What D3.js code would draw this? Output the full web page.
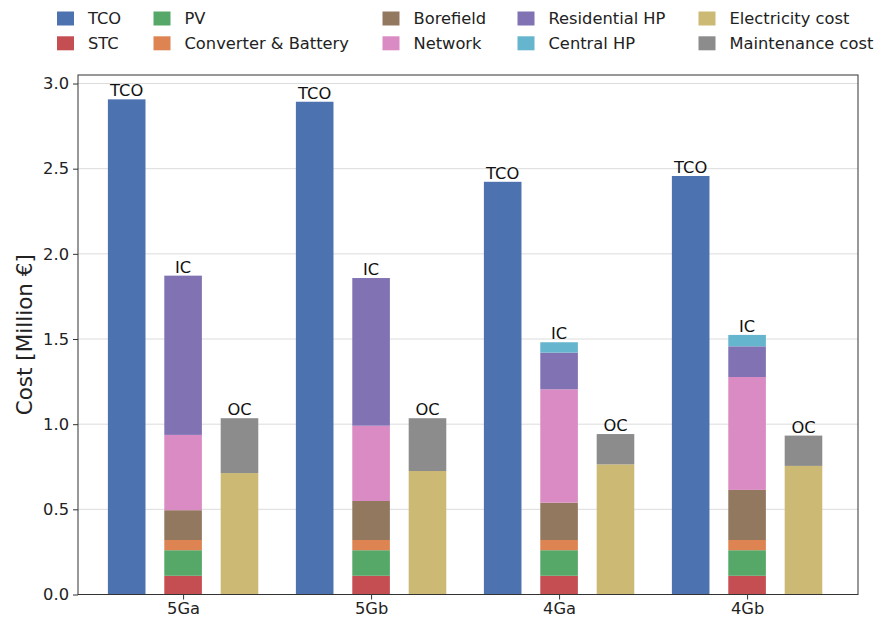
<!DOCTYPE html>
<html>
<head>
<meta charset="utf-8">
<script src="https://cdn.jsdelivr.net/npm/d3@7"></script>
<style>
  body { margin: 0; background: #fff; }
  svg { display: block; font-family: "DejaVu Sans", sans-serif; }
</style>
</head>
<body>
<svg id="chart" width="875" height="623"></svg>
<script>
// Scenarios on the x axis
const scenarios = ["5Ga", "5Gb", "4Ga", "4Gb"];

// Investment cost components (Million €)
const stc          = [0.110, 0.110, 0.110, 0.110];
const pv           = [0.150, 0.150, 0.150, 0.150];
const converter    = [0.060, 0.060, 0.060, 0.060];
const borefield    = [0.175, 0.229, 0.219, 0.294];
const network      = [0.442, 0.442, 0.666, 0.663];
const residentialHP= [0.935, 0.867, 0.215, 0.180];
const centralHP    = [0.000, 0.000, 0.061, 0.067];

// Operating cost components (Million €)
const electricity  = [0.713, 0.725, 0.764, 0.755];
const maintenance  = [0.322, 0.310, 0.178, 0.178];

// Total cost of ownership (Million €)
const tco          = [2.907, 2.893, 2.423, 2.457];

const yTicks = [0, 0.5, 1.0, 1.5, 2.0, 2.5, 3.0];

const legendItems = [
  ["TCO", "#4C72B0"], ["STC", "#C44E52"], ["PV", "#55A868"],
  ["Converter & Battery", "#DD8452"], ["Borefield", "#937860"],
  ["Network", "#DA8BC3"], ["Residential HP", "#8172B3"],
  ["Central HP", "#64B5CD"], ["Electricity cost", "#CCB974"],
  ["Maintenance cost", "#8C8C8C"]
];
const color = Object.fromEntries(legendItems);

const icStack = [
  ["STC", stc], ["PV", pv], ["Converter & Battery", converter],
  ["Borefield", borefield], ["Network", network],
  ["Residential HP", residentialHP], ["Central HP", centralHP]
];
const ocStack = [["Electricity cost", electricity], ["Maintenance cost", maintenance]];

const FS = 16.3;
const svg = d3.select("#chart");
const L = 78, R = 858, T = 75, B = 594.5;

const x = d3.scaleLinear().domain([-0.559, 3.59]).range([L, R]);
const y = d3.scaleLinear().domain([0, 3.05]).range([B, T]);
const barW = x(0.2) - x(0);
const offset = 0.3;

// grid
svg.append("g").selectAll("line").data(yTicks.filter(d => d > 0)).join("line")
  .attr("x1", L).attr("x2", R)
  .attr("y1", d => y(d)).attr("y2", d => y(d))
  .attr("stroke", "#dcdcdc").attr("stroke-width", 1);

const bars = svg.append("g");

// TCO bars
scenarios.forEach((s, i) => {
  const cx = x(i - offset);
  bars.append("rect")
    .attr("x", cx - barW / 2).attr("width", barW)
    .attr("y", y(tco[i])).attr("height", y(0) - y(tco[i]))
    .attr("fill", color["TCO"]);
  bars.append("text").attr("x", cx).attr("y", y(tco[i]) - 3)
    .attr("text-anchor", "middle").attr("font-size", FS).attr("fill", "#111").text("TCO");
});

function drawStack(stack, pos, label) {
  scenarios.forEach((s, i) => {
    const cx = x(i + pos);
    let base = 0;
    stack.forEach(([name, vals]) => {
      const v = vals[i];
      if (v > 0) {
        bars.append("rect")
          .attr("x", cx - barW / 2).attr("width", barW)
          .attr("y", y(base + v)).attr("height", y(base) - y(base + v))
          .attr("fill", color[name]);
      }
      base += v;
    });
    bars.append("text").attr("x", cx).attr("y", y(base) - 3)
      .attr("text-anchor", "middle").attr("font-size", FS).attr("fill", "#111").text(label);
  });
}
drawStack(icStack, 0, "IC");
drawStack(ocStack, offset, "OC");

// axes
const yAxis = d3.axisLeft(y).tickValues(yTicks).tickFormat(d3.format(".1f"))
  .tickSize(5).tickPadding(4);
const gy = svg.append("g").attr("transform", `translate(${L},0)`).call(yAxis);
gy.select(".domain").remove();
gy.selectAll("text").attr("font-size", FS).attr("fill", "#222").attr("font-family", "DejaVu Sans");
gy.selectAll("line").attr("stroke", "#333");

const xAxis = d3.axisBottom(x).tickValues(d3.range(scenarios.length))
  .tickFormat(i => scenarios[i]).tickSize(5).tickPadding(3);
const gx = svg.append("g").attr("transform", `translate(0,${B})`).call(xAxis);
gx.select(".domain").remove();
gx.selectAll("text").attr("font-size", FS).attr("fill", "#222").attr("font-family", "DejaVu Sans");
gx.selectAll("line").attr("stroke", "#333");

// frame
svg.append("rect").attr("x", L).attr("y", T).attr("width", R - L).attr("height", B - T)
  .attr("fill", "none").attr("stroke", "#333").attr("stroke-width", 1);

// y label
svg.append("text")
  .attr("transform", `translate(24,${(T + B) / 2}) rotate(-90)`)
  .attr("text-anchor", "middle").attr("dy", "0.36em").attr("font-size", 21.5).attr("fill", "#222")
  .text("Cost [Million €]");

// legend: 5 columns, 2 rows, filled column-wise
const colX = [57, 153.5, 382.5, 517.5, 698.5];
const rowY = [18.5, 43.3];
const lg = svg.append("g");
legendItems.forEach(([name, c], k) => {
  const col = Math.floor(k / 2), row = k % 2;
  lg.append("rect").attr("x", colX[col]).attr("y", rowY[row] - 7)
    .attr("width", 17).attr("height", 14).attr("fill", c);
  lg.append("text").attr("x", colX[col] + 31).attr("y", rowY[row])
    .attr("dy", "0.36em").attr("font-size", FS).attr("fill", "#222").text(name);
});
</script>
</body>
</html>
